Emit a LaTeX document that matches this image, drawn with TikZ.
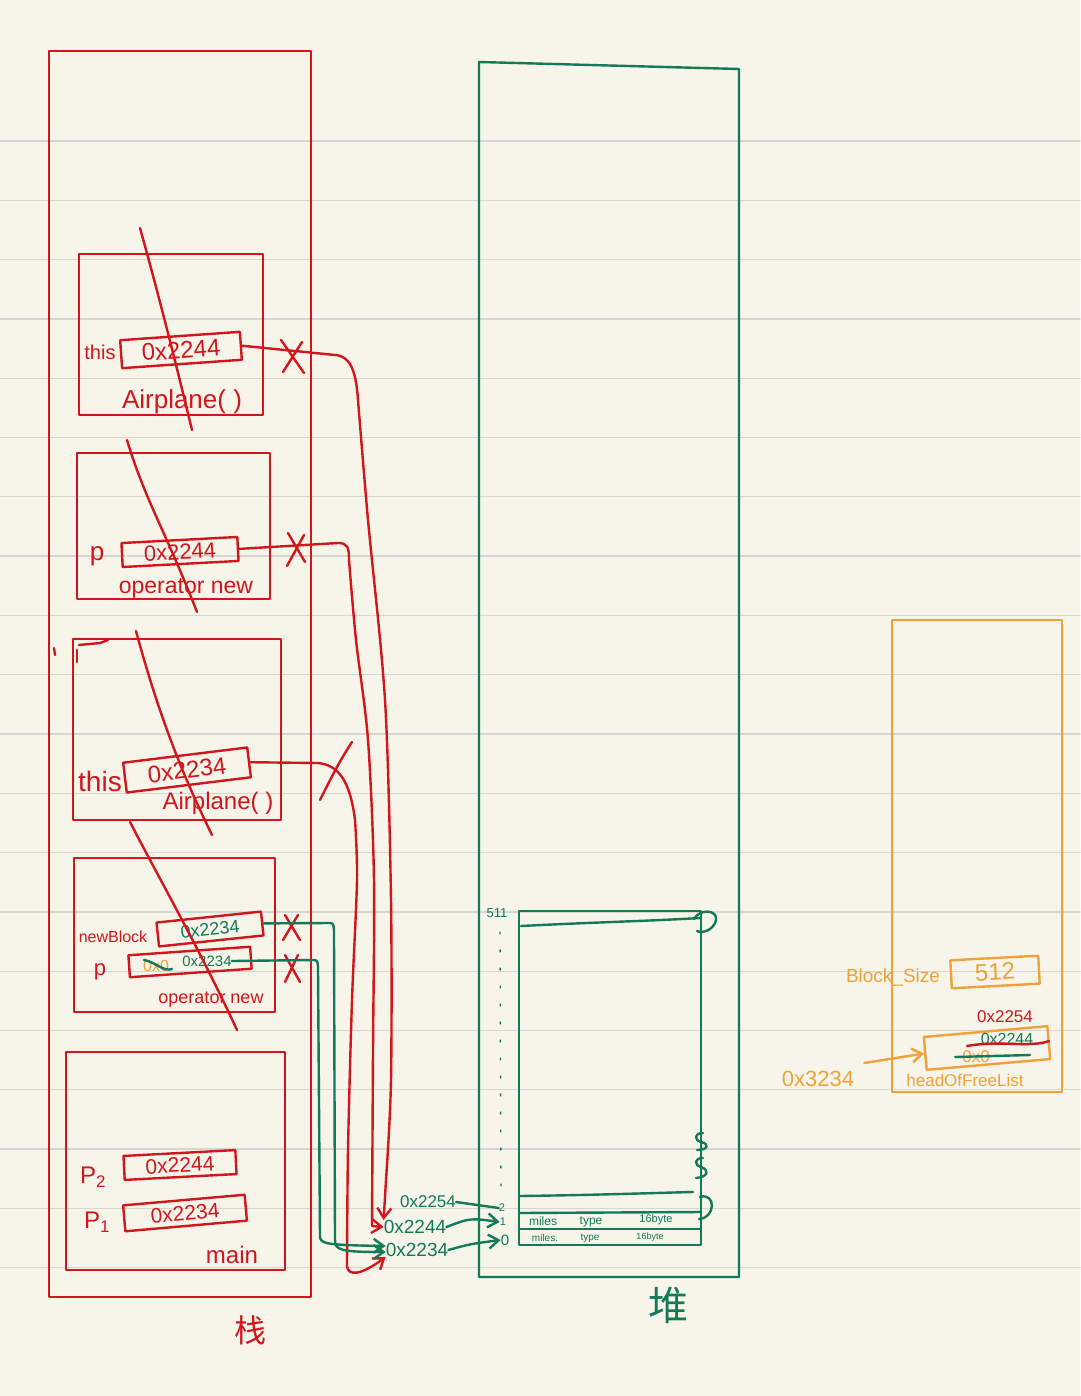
\documentclass[tikz,border=0pt]{standalone}
\usepackage{fontspec}
\setmainfont{Liberation Sans}
\newfontfamily\cjk{Noto Sans CJK SC}
\usetikzlibrary{arrows.meta}
\definecolor{paper}{HTML}{F7F4E9}
\definecolor{ruleln}{HTML}{D6D6D2}
\definecolor{hred}{HTML}{D3161B}
\definecolor{hgreen}{HTML}{137A58}
\definecolor{horange}{HTML}{F0A23A}
\tikzset{
  fs/.style={font=\fontsize{#1}{#1}\selectfont},
  rl/.style={draw=hred,line width=2.4pt},
  gl/.style={draw=hgreen,line width=2.4pt},
  ol/.style={draw=horange,line width=2.4pt},
  rt/.style={text=hred,inner sep=0pt},
  gt/.style={text=hgreen,inner sep=0pt},
  ot/.style={text=horange,inner sep=0pt},
  tipb/.style={-{Straight Barb[length=10pt,width=14pt]}},
  vbox/.style={draw=#1,line width=2.4pt,inner sep=0pt},
}
\begin{document}
\begin{tikzpicture}[x=1pt,y=-1pt,line cap=round,line join=round]
\fill[paper] (0,0) rectangle (1080,1396);
\useasboundingbox (0,0) rectangle (1080,1396);
\foreach \k in {0,...,19} \draw[ruleln,line width=1.3pt] (0,{141+59.3*\k}) -- (1080,{141+59.3*\k});

% ---------- stack ----------
\draw[rl] (49,51) rectangle (311,1297);
\draw[rl] (54,648) -- (55,655);
\node[rt,font=\cjk\fontsize{32}{32}\selectfont] (zhan) at (250,1330) {栈};

% frame 1: Airplane()
\draw[rl] (79,254) rectangle (263,415);
\node[rt,fs=20] (this1) at (100,352) {this};
\node[rt,fs=24,vbox=hred,minimum width=120pt,minimum height=28pt,rotate=4] (v1) at (181,350) {0x2244};
\node[rt,fs=26] (air1) at (182,402) {Airplane( )};
\draw[rl] (140,228) .. controls (160,300) and (175,360) .. (192,430);

% frame 2: operator new
\draw[rl] (77,453) rectangle (270,599);
\node[rt,fs=26] (p2) at (97,556) {p};
\node[rt,fs=22,vbox=hred,minimum width=116pt,minimum height=24pt,rotate=3] (v2) at (180,552) {0x2244};
\node[rt,fs=23] (opn1) at (186,588) {operator new};
\draw[rl] (127,440) .. controls (145,500) and (165,530) .. (197,612);

% frame 3: Airplane()
\draw[rl] (73,639) rectangle (281,820);
\draw[rl] (77,662) -- (77,650);
\draw[rl] (79,645) -- (100,643) -- (108,640);
\node[rt,fs=28] (this3) at (100,781) {this};
\node[rt,fs=24,vbox=hred,minimum width=125pt,minimum height=30pt,rotate=7] (v3) at (187,770) {0x2234};
\node[rt,fs=24] (air3) at (218,803) {Airplane( )};
\draw[rl] (136,631) .. controls (160,720) and (185,780) .. (212,835);

% frame 4: operator new
\draw[rl] (74,858) rectangle (275,1012);
\node[rt,fs=16] (nb) at (113,937) {newBlock};
\node[gt,fs=18,vbox=hred,minimum width=105pt,minimum height=24pt,rotate=6] (v4) at (210,929) {0x2234};
\node[rt,fs=22] (p4) at (100,972) {p};
\node[vbox=hred,minimum width=122pt,minimum height=22pt,rotate=4] (v5) at (190,962) {};
\node[ot,fs=16] (zero5) at (156,966) {0x0};
\draw[gl] (144,960) .. controls (156,962) and (163,972) .. (172,969);
\node[gt,fs=15] (v5t) at (207,961) {0x2234};
\node[rt,fs=18] (opn2) at (211,1000) {operator new};
\draw[rl] (130,822) .. controls (160,880) and (200,950) .. (237,1030);

% frame 5: main
\draw[rl] (66,1052) rectangle (285,1270);
\node[rt,fs=24] (pp2) at (93,1177) {P\textsubscript{2}};
\node[rt,fs=21,vbox=hred,minimum width=112pt,minimum height=24pt,rotate=3] (v6) at (180,1165) {0x2244};
\node[rt,fs=24] (pp1) at (97,1222) {P\textsubscript{1}};
\node[rt,fs=21,vbox=hred,minimum width=122pt,minimum height=26pt,rotate=5] (v7) at (185,1213) {0x2234};
\node[rt,fs=24] (mainl) at (232,1255) {main};

% X marks
\draw[rl] (281,340) -- (304,373) (302,342) -- (283,372);
\draw[rl] (288,533) -- (305,562) (304,535) -- (287,566);
\draw[rl] (320,800) .. controls (330,780) and (340,760) .. (352,742);
\draw[rl] (285,915) -- (300,940) (298,915) -- (283,940);
\draw[rl] (285,955) -- (300,982) (298,955) -- (285,982);

% ---------- heap ----------
\draw[gl] (479,62) -- (739,69) -- (739,1277) -- (479,1277) -- cycle;
\node[gt,font=\cjk\fontsize{40}{40}\selectfont] (dui) at (668,1305) {堆};
\draw[gl] (519,911) rectangle (701,1245);
\draw[gl] (521,926) .. controls (600,922) and (650,921) .. (700,918);
\draw[gl] (519,1196) .. controls (600,1195) and (650,1193) .. (693,1192);
\draw[gl] (519,1213) -- (701,1212);
\draw[gl] (519,1229) -- (701,1229);
\node[gt,fs=12] (m1) at (543,1221) {miles};
\node[gt,fs=12] (t1) at (591,1222) {type};
\node[gt,fs=11] (b1) at (656,1220) {16byte};
\node[gt,fs=10] (m0) at (545,1238) {miles.};
\node[gt,fs=10] (t0) at (590,1238) {type};
\node[gt,fs=9] (b0) at (650,1237) {16byte};
\node[gt,fs=13] (n511) at (497,913) {511};
\node[gt,fs=11] (n2) at (502,1208) {2};
\node[gt,fs=11] (n1) at (503,1222) {1};
\node[gt,fs=15] (n0) at (505,1240) {0};
\draw[hgreen,line width=1.4pt,dash pattern=on 2pt off 16pt] (500,932) -- (501,1196);
% squiggles
\draw[gl] (694,919) .. controls (700,908) and (718,910) .. (716,920) .. controls (714,930) and (702,934) .. (697,931);
\draw[gl] (703,1133) .. controls (694,1133) and (694,1140) .. (701,1142) .. controls (710,1144) and (708,1150) .. (697,1150);
\draw[gl] (703,1158) .. controls (694,1158) and (694,1165) .. (701,1167) .. controls (710,1170) and (708,1177) .. (696,1178);
\draw[gl] (700,1197) .. controls (716,1192) and (716,1218) .. (699,1219);

% addresses
\node[gt,fs=17] (a2254) at (428,1202) {0x2254};
\node[gt,fs=19] (a2244) at (415,1227) {0x2244};
\node[gt,fs=19] (a2234) at (417,1250) {0x2234};
\draw[gl] (a2254.east) -- (n2.west);
\draw[gl,tipb] (a2244.east) .. controls (470,1218) .. (n1.west);
\draw[gl,tipb] (a2234.east) .. controls (470,1244) .. (n0.west);

% red pointers
\draw[rl,tipb] (v1.east) -- (335,355) .. controls (350,356) and (356,370) .. (358,400)
  -- plot[smooth] coordinates {(358,400) (368,520) (385,700) (391,900) (391,1080) (386,1180)} -- (a2244.north west);
\draw[rl,tipb] (v2.east) -- (338,543) .. controls (348,543) and (349,548) .. (349,560)
  -- plot[smooth] coordinates {(349,560) (356,640) (368,740) (374,880) (373,1050) (372,1226)} -- (a2244.west);
\draw[rl,tipb] (v3.east) -- (318,763) .. controls (338,765) and (350,780) .. (355,820)
  -- plot[smooth] coordinates {(355,820) (357,880) (352,1000) (348,1150) (347,1266)} .. controls (348,1276) and (360,1276) .. (a2234.south west);

% green pointers
\draw[gl,tipb] (v4.east) -- (330,923) .. controls (334,923) and (334,926) .. (334,935) -- (335,1240) .. controls (335,1250) and (340,1252) .. ([yshift=-2pt]a2234.west);
\draw[gl,tipb] (v5t.east) -- (314,960) .. controls (318,960) and (318,963) .. (318,970) -- (320,1236) .. controls (320,1244) and (326,1245) .. ([yshift=4pt]a2234.west);

% ---------- orange class data ----------
\draw[ol] (892,620) rectangle (1062,1092);
\node[ot,fs=19] (bs) at (893,977) {Block\_Size};
\node[ot,fs=24,vbox=horange,minimum width=88pt,minimum height=28pt,rotate=3] (v8) at (995,972) {512};
\node[vbox=horange,minimum width=124pt,minimum height=33pt,rotate=5] (v9) at (987,1048) {};
\node[rt,fs=17] (r2254) at (1005,1017) {0x2254};
\node[gt,fs=16] (g2244) at (1007,1039) {0x2244};
\draw[rl] (967,1046) .. controls (1000,1040) and (1030,1048) .. (1049,1041);
\node[ot,fs=17] (o0) at (976,1057) {0x0};
\draw[gl] (955,1057) -- (1030,1055);
\node[ot,fs=17] (hofl) at (965,1080) {headOfFreeList};
\node[ot,fs=22] (a3234) at (818,1079) {0x3234};
\draw[ol,tipb] ([xshift=10pt,yshift=16pt]a3234.east) -- (v9.west);
\end{tikzpicture}
\end{document}
